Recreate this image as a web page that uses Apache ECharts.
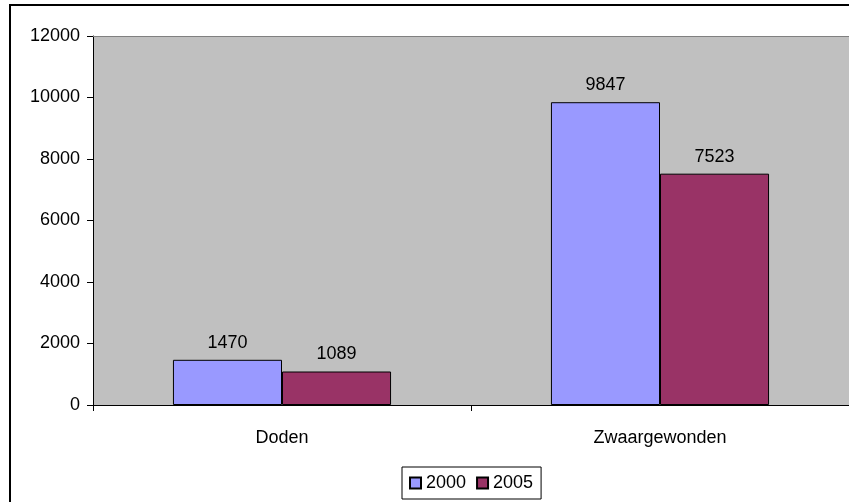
<!DOCTYPE html>
<html><head><meta charset="utf-8">
<script src="https://cdn.jsdelivr.net/npm/echarts@6/dist/echarts.min.js"></script>
<style>html,body{margin:0;padding:0;background:#fff}#c{width:849px;height:502px}</style>
</head><body><div id="c"></div>
<script>
const categories = ['Doden', 'Zwaargewonden'];
const seriesNames = ['2000', '2005'];
const values2000 = [1470, 9847];
const values2005 = [1089, 7523];
const colors = ['#9999FF', '#993366'];
const FONT = 'Liberation Sans';
const FS = 18;
const chart = echarts.init(document.getElementById('c'), null, {renderer: 'canvas'});
const mkSeries = (name, data, color) => ({
  name, type: 'bar', data, xAxisIndex: 0,
  barGap: '0%', barCategoryGap: '42.3%',
  itemStyle: {color, borderColor: '#000', borderWidth: 1},
  label: {show: true, position: 'top', distance: 8, color: '#000', fontFamily: FONT, fontSize: FS},
  emphasis: {disabled: true}, animation: false
});
chart.setOption({
  animation: false,
  textStyle: {fontFamily: FONT},
  graphic: [{type: 'rect', shape: {x: 10, y: 5, width: 900, height: 600}, style: {fill: 'none', stroke: '#000', lineWidth: 2}, z: 100}],
  grid: {left: 93, right: 0, top: 36, bottom: 97, show: true, backgroundColor: '#C0C0C0', borderWidth: 0},
  legend: {
    data: seriesNames, left: 402, top: 467, orient: 'horizontal',
    itemWidth: 11, itemHeight: 11, itemGap: 10, icon: 'rect',
    padding: [7, 8, 7, 7], borderColor: '#000', borderWidth: 1, backgroundColor: '#fff',
    textStyle: {fontFamily: FONT, fontSize: FS, color: '#000'},
    selectedMode: false
  },
  xAxis: [{
    type: 'category', data: categories,
    axisLine: {lineStyle: {color: '#000', width: 1}},
    axisTick: {show: true, length: 6, lineStyle: {color: '#000'}},
    axisLabel: {color: '#000', fontFamily: FONT, fontSize: FS, margin: 24}
  }, {
    type: 'category', data: categories, position: 'top',
    axisLine: {show: true, lineStyle: {color: '#808080', width: 1}},
    axisTick: {show: false}, axisLabel: {show: false}
  }],
  yAxis: {
    type: 'value', min: 0, max: 12000, interval: 2000,
    axisLine: {show: true, lineStyle: {color: '#000', width: 1}},
    axisTick: {show: true, length: 6, lineStyle: {color: '#000'}},
    axisLabel: {color: '#000', fontFamily: FONT, fontSize: FS, margin: 13, formatter: v => String(v)},
    splitLine: {show: false}
  },
  series: [mkSeries(seriesNames[0], values2000, colors[0]), mkSeries(seriesNames[1], values2005, colors[1])]
});
</script></body></html>
